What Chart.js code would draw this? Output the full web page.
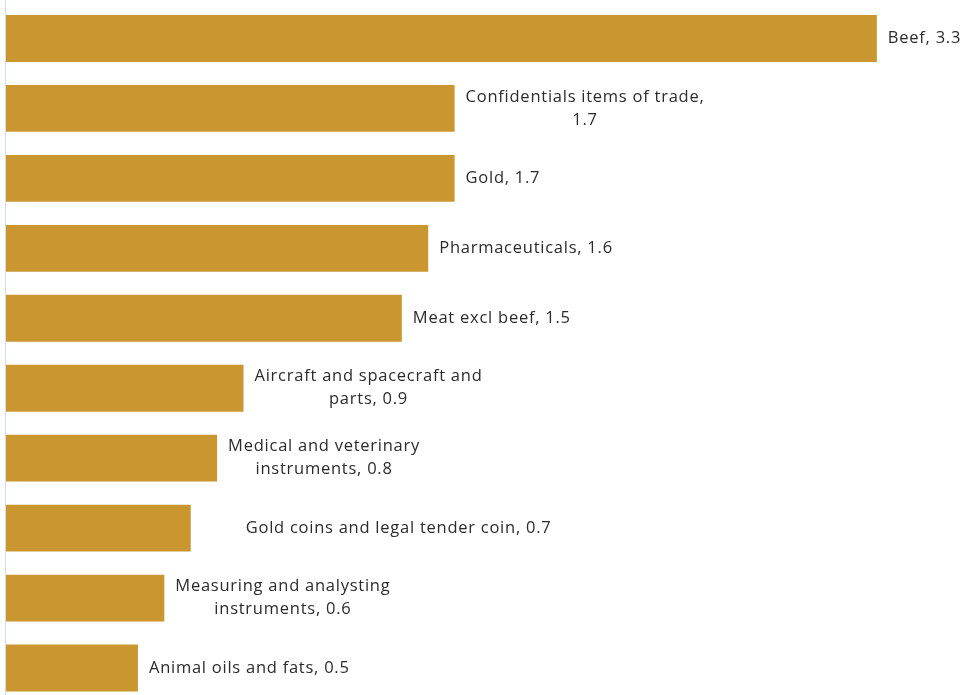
<!DOCTYPE html>
<html>
<head>
<meta charset="utf-8">
<script src="https://cdn.jsdelivr.net/npm/chart.js@4"></script>
<style>
  html, body { margin: 0; padding: 0; background: #fff; overflow: hidden; }
  #wrap { width: 975px; height: 703px; }
</style>
</head>
<body>
<div id="wrap"><canvas id="barChart" width="975" height="703"></canvas></div>
<script>
const categories = [
  'Beef',
  'Confidentials items of trade',
  'Gold',
  'Pharmaceuticals',
  'Meat excl beef',
  'Aircraft and spacecraft and parts',
  'Medical and veterinary instruments',
  'Gold coins and legal tender coin',
  'Measuring and analysting instruments',
  'Animal oils and fats'
];
const values = [3.3, 1.7, 1.7, 1.6, 1.5, 0.9, 0.8, 0.7, 0.6, 0.5];

// how many words go on the first line of each label (0 = one line)
const firstLineWords = [0, 4, 0, 0, 0, 4, 3, 0, 3, 0];

const barColor = '#ca962f';
const textColor = '#2b2b2b';
const labelFont = '16.5px "Open Sans"';

const barLabels = {
  id: 'barLabels',
  afterDatasetsDraw(chart) {
    const ctx = chart.ctx;
    const meta = chart.getDatasetMeta(0);
    // axis line on the left
    ctx.save();
    ctx.strokeStyle = '#d2dcea';
    ctx.lineWidth = 1;
    ctx.beginPath();
    ctx.moveTo(chart.chartArea.left - 0.5, 0);
    ctx.lineTo(chart.chartArea.left - 0.5, chart.height);
    ctx.stroke();

    ctx.font = labelFont;
    ctx.letterSpacing = '0.75px';
    ctx.fillStyle = textColor;
    ctx.textAlign = 'left';
    ctx.textBaseline = 'middle';
    meta.data.forEach((bar, i) => {
      const text = categories[i] + ', ' + values[i];
      let lines = [text];
      if (firstLineWords[i] > 0) {
        const words = text.split(' ');
        lines = [words.slice(0, firstLineWords[i]).join(' '), words.slice(firstLineWords[i]).join(' ')];
      }
      const widths = lines.map(l => ctx.measureText(l).width);
      const w = Math.max(...widths);
      let left = bar.x + 11;
      if (i === 7) left += 44;
      const lh = 23;
      const y0 = bar.y - (lines.length - 1) * lh / 2;
      lines.forEach((l, k) => ctx.fillText(l, left + (w - widths[k]) / 2, y0 + k * lh));
    });
    ctx.restore();
  }
};

new Chart(document.getElementById('barChart'), {
  type: 'bar',
  data: {
    labels: categories,
    datasets: [{
      data: values,
      backgroundColor: barColor,
      borderWidth: 0,
      barPercentage: 0.67,
      categoryPercentage: 1
    }]
  },
  options: {
    indexAxis: 'y',
    responsive: false,
    animation: false,
    layout: { padding: { left: 6, right: 19, top: 3.5, bottom: 0 } },
    plugins: { legend: { display: false }, tooltip: { enabled: false } },
    scales: {
      x: { display: false, min: 0, max: 3.6 },
      y: { display: false }
    }
  },
  plugins: [barLabels]
});
</script>
</body>
</html>
